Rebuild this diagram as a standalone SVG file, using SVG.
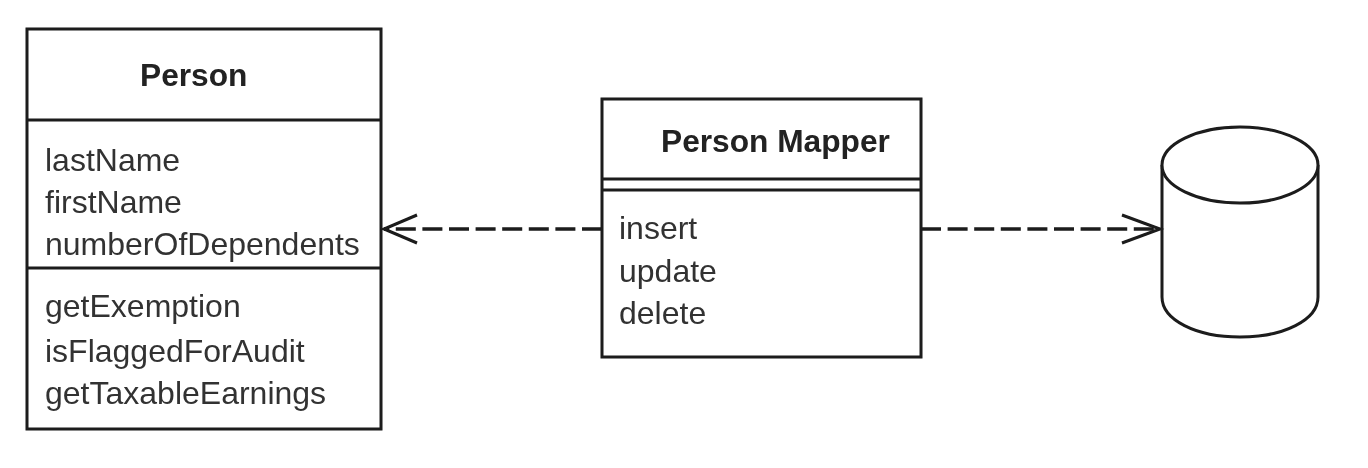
<svg xmlns="http://www.w3.org/2000/svg" width="1368" height="468" viewBox="0 0 1368 468">
<defs><filter id="soft" x="-5%" y="-5%" width="110%" height="110%"><feGaussianBlur stdDeviation="0.7"/></filter></defs>
<style>
g{filter:url(#soft)}
.b{fill:#fff;stroke:#1a1a1a;stroke-width:3}
.l{fill:none;stroke:#1a1a1a;stroke-width:3}
.d{fill:none;stroke:#1a1a1a;stroke-width:3.5;stroke-dasharray:20 6.6}
text{font-family:"Liberation Sans",Arial,sans-serif;font-size:32px;fill:#333}
.t{font-weight:bold;font-size:31.7px;fill:#222}
</style>
<rect width="1368" height="468" fill="#fff"/>
<g id="person">
<rect class="b" x="27" y="29" width="354" height="400"/>
<path class="l" d="M27 120H381M27 268H381"/>
<text class="t" x="140" y="86">Person</text>
<text x="45" y="171">lastName</text>
<text x="45" y="213">firstName</text>
<text x="45" y="255">numberOfDependents</text>
<text x="45" y="317">getExemption</text>
<text x="45" y="362">isFlaggedForAudit</text>
<text x="45" y="404">getTaxableEarnings</text>
</g>
<g id="person-mapper">
<rect class="b" x="602" y="99" width="319" height="258"/>
<path class="l" d="M602 179H921M602 190H921"/>
<text class="t" x="661" y="152">Person Mapper</text>
<text x="619" y="239">insert</text>
<text x="619" y="282">update</text>
<text x="619" y="324">delete</text>
</g>
<g id="database">
<path class="b" d="M1162 165V297C1162 320 1196 337 1240 337S1318 320 1318 297V165"/>
<ellipse class="b" cx="1240" cy="165" rx="78" ry="38"/>
</g>
<g id="connectors">
<path class="d" d="M602 229H384"/>
<path class="l" d="M417 215L384 229L417 243"/>
<path class="d" d="M921 229H1160"/>
<path class="l" d="M1122 215L1160 229L1122 243"/>
</g>
</svg>
